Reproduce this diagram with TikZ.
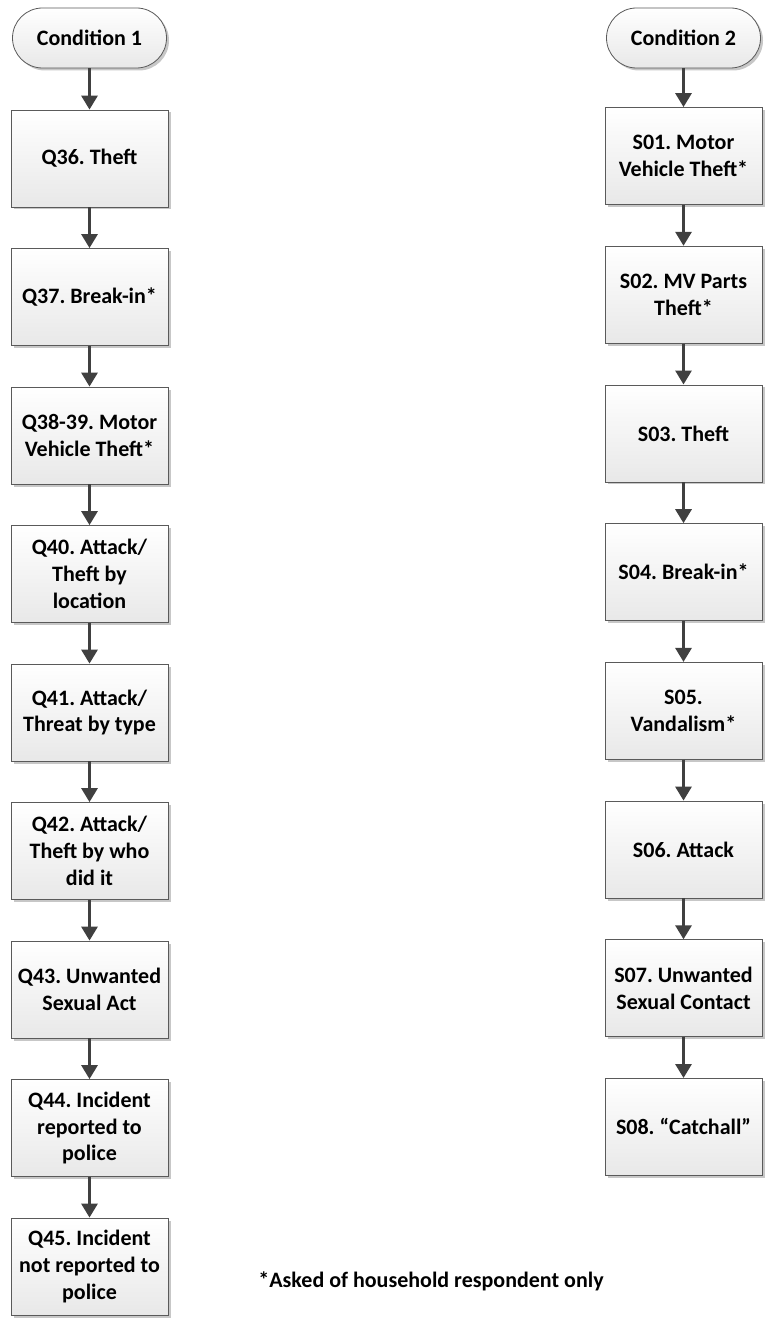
\documentclass[tikz,border=0pt]{standalone}
\usepackage{fontspec}
\setmainfont{Carlito}
\usetikzlibrary{arrows.meta,shapes.misc,shadows}
\definecolor{boxline}{HTML}{5A5A5A}
\definecolor{arrowc}{HTML}{404040}
\begin{document}
\frenchspacing
\begin{tikzpicture}[x=1pt,y=-1pt,
  txt/.style={font=\fontsize{22}{26.8}\selectfont\bfseries},
  box/.style={txt, draw=boxline, line width=0.8pt, top color=white, bottom color=gray!18,
    minimum width=157pt, minimum height=97pt, align=center, inner sep=2pt,
    drop shadow={shadow xshift=2.5pt, shadow yshift=-2.5pt, fill=black, opacity=0.22}},
  term/.style={box, rounded rectangle, minimum height=60pt, minimum width=158pt},
  flow/.style={draw=arrowc, line width=3pt, -{Triangle[width=16pt,length=14pt]}}
]
\useasboundingbox (0,0) rectangle (769,1321);
\fill[white] (0,0) rectangle (769,1321);
% left column
\node[term] (c1) at (89.5,38) {Condition 1};
\node[box] (q36) at (89.5,158.5) {Q36. Theft};
\node[box] (q37) at (89.5,297) {Q37. Break-in*};
\node[box] (q38) at (89.5,435.5) {Q38-39. Motor\\Vehicle Theft*};
\node[box] (q40) at (89.5,574) {Q40. Attack/\\Theft by\\location};
\node[box] (q41) at (89.5,712.5) {Q41. Attack/\\Threat by type};
\node[box] (q42) at (89.5,851) {Q42. Attack/\\Theft by who\\did it};
\node[box] (q43) at (89.5,989.5) {Q43. Unwanted\\Sexual Act};
\node[box] (q44) at (89.5,1128) {Q44. Incident\\reported to\\police};
\node[box] (q45) at (89.5,1266.5) {Q45. Incident\\not reported to\\police};
% right column
\node[term] (c2) at (683.5,38) {Condition 2};
\node[box] (s01) at (683.5,156) {S01. Motor\\Vehicle Theft*};
\node[box] (s02) at (683.5,294.7) {S02. MV Parts\\Theft*};
\node[box] (s03) at (683.5,433.4) {S03. Theft};
\node[box] (s04) at (683.5,572.1) {S04. Break-in*};
\node[box] (s05) at (683.5,710.8) {S05.\\Vandalism*};
\node[box] (s06) at (683.5,849.5) {S06. Attack};
\node[box] (s07) at (683.5,988.2) {S07. Unwanted\\Sexual Contact};
\node[box] (s08) at (683.5,1126.9) {S08. “Catchall”};
% note
\node[txt] (note) at (431,1281) {*Asked of household respondent only};
% arrows
\foreach \a/\b in {c1/q36,q36/q37,q37/q38,q38/q40,q40/q41,q41/q42,q42/q43,q43/q44,q44/q45,
                   c2/s01,s01/s02,s02/s03,s03/s04,s04/s05,s05/s06,s06/s07,s07/s08}
  \draw[flow] (\a.south) -- (\b.north);
\end{tikzpicture}
\end{document}
